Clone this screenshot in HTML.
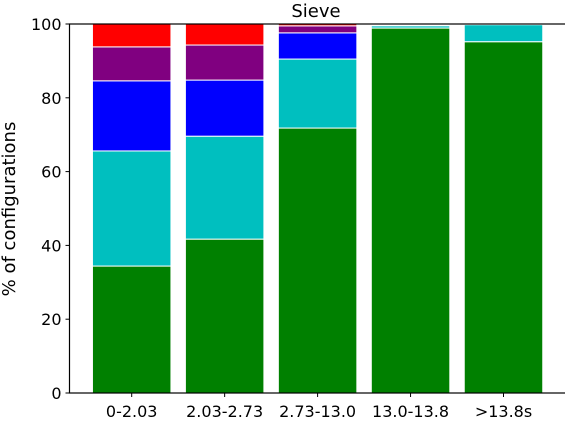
<!DOCTYPE html>
<html><head><meta charset="utf-8"><style>
body{margin:0;background:#fff;}
svg{display:block;font-family:"DejaVu Sans","Liberation Sans",sans-serif;}
</style></head><body>
<svg id="chart" width="565" height="421">
<text x="316" y="17" text-anchor="middle" font-size="18">Sieve</text>
<text transform="translate(15,209) rotate(-90)" text-anchor="middle" font-size="18">% of configurations</text>
<g id="bars"></g><g id="axes"></g>
</svg>
<script>
const categories=["0-2.03","2.03-2.73","2.73-13.0","13.0-13.8",">13.8s"];
const seriesGreen=[34.4,41.7,71.8,98.9,95.2];
const seriesCyan=[31.2,27.9,18.7,0.6,4.6];
const seriesBlue=[19.0,15.2,7.1,0,0];
const seriesPurple=[9.2,9.5,1.9,0,0];
const seriesRed=[6.2,5.7,0.5,0,0];
const yTicks=[0,20,40,60,80,100];
const series=[[seriesGreen,"#008000"],[seriesCyan,"#00bfbf"],[seriesBlue,"#0000ff"],[seriesPurple,"#800080"],[seriesRed,"#ff0000"]];
const L=69.5,R=566,T=24,B=393;
const ns="http://www.w3.org/2000/svg";
const y=v=>B-(B-T)*v/100;
const step=92.95;
const bw=78.5;
const x=i=>131.7+step*i;
const bars=document.getElementById('bars'),axes=document.getElementById('axes');
function mk(t,a,p){const e=document.createElementNS(ns,t);for(const k in a)e.setAttribute(k,a[k]);p.appendChild(e);return e;}
categories.forEach((c,i)=>{let base=0;series.forEach(([arr,col],s)=>{const v=arr[i];if(v>0){const r=mk('rect',{x:x(i)-bw/2,y:y(base+v),width:bw,height:y(base)-y(base+v),fill:col,stroke:'#fff','stroke-width':1},bars);

}base+=v;});
mk('line',{x1:x(i),x2:x(i),y1:B,y2:B+4,stroke:'#000'},axes);
const t=mk('text',{x:x(i),y:B+24,'text-anchor':'middle','font-size':16},axes);t.textContent=c;

});
yTicks.forEach(v=>{mk('line',{x1:L-4,x2:L,y1:y(v),y2:y(v),stroke:'#000'},axes);
const t=mk('text',{x:L-8,y:y(v)+6,'text-anchor':'end','font-size':16},axes);t.textContent=v;

});
const f=mk('rect',{x:L,y:T,width:R-L,height:B-T,fill:'none',stroke:'#000','stroke-width':1.2},axes);


</script>
</body></html>
